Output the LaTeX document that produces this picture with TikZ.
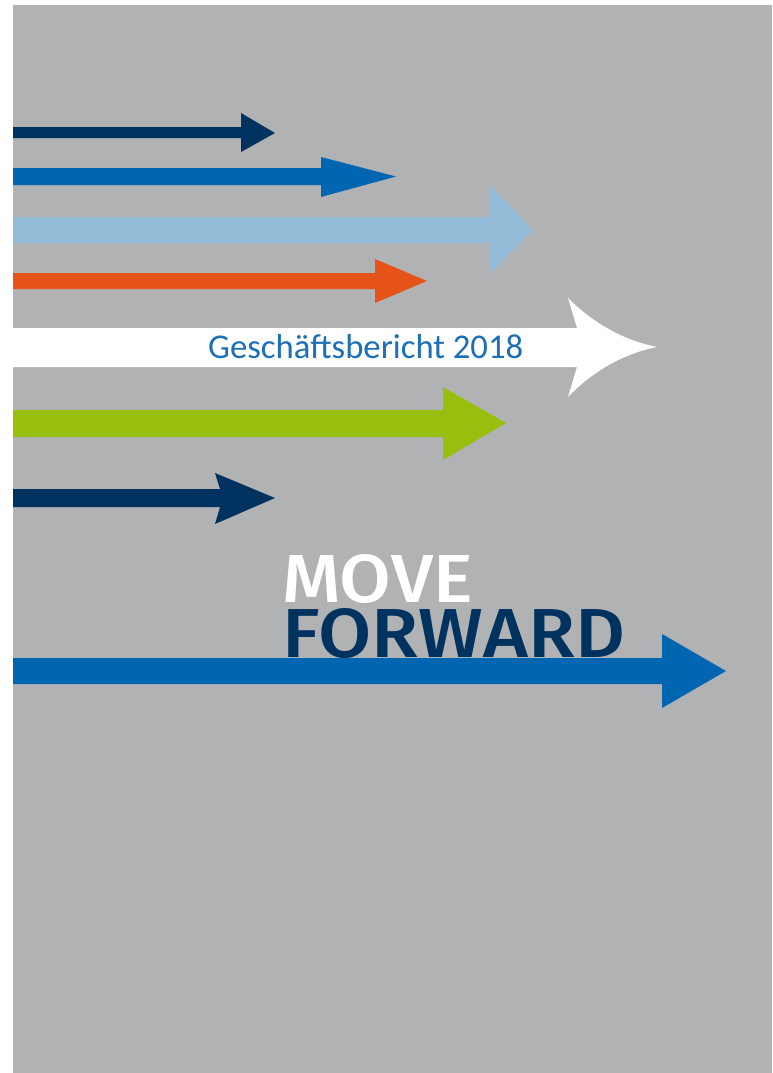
\documentclass[tikz,border=0pt]{standalone}
\usepackage{fontspec}
\usepackage{graphicx}
\newfontfamily\titlefont{Fira Sans}[BoldFont={Fira Sans Medium}]
\newfontfamily\subfont{Carlito}
\definecolor{bggrey}{HTML}{B1B2B4}
\definecolor{navy}{HTML}{00325F}
\definecolor{midblue}{HTML}{0066B2}
\definecolor{lightblue}{HTML}{94BCD9}
\definecolor{orangeA}{HTML}{E55318}
\definecolor{greenA}{HTML}{98BF0E}
\definecolor{textblue}{HTML}{1D6FB8}
\tikzset{
  arrowfill/.style={fill=#1, draw=none},
  titletext/.style={inner sep=0pt, outer sep=0pt, anchor=north west}
}
\begin{document}
\begin{tikzpicture}[x=1pt,y=-1pt]
\useasboundingbox (0,0) rectangle (772,1073);
\fill[white] (0,0) rectangle (772,1073);
\fill[bggrey] (13,5) rectangle (772,1073);
% 1 navy
\fill[arrowfill=navy] (13,127) -- (241,127) -- (241,113) -- (275,133) -- (241,152) -- (241,138) -- (13,138) -- cycle;
% 2 mid blue
\fill[arrowfill=midblue] (13,168) -- (321,168) -- (321,157) -- (396,176.5) -- (321,197) -- (321,185) -- (13,185) -- cycle;
% 3 light blue
\fill[arrowfill=lightblue] (13,217) -- (490,217) -- (490,185) -- (533,230) -- (490,273) -- (490,243) -- (13,243) -- cycle;
% 4 orange
\fill[arrowfill=orangeA] (13,273) -- (375,273) -- (375,259) -- (427,281) -- (375,303) -- (375,289) -- (13,289) -- cycle;
% 5 white
\fill[arrowfill=white] (13,328) -- (577,328) -- (568,298) .. controls (592,322) and (622,340) .. (657,347) .. controls (622,354) and (592,372) .. (568,397) -- (577,367) -- (13,367) -- cycle;
\node[inner sep=0pt, anchor=base west, text=textblue] (sub) at (208,358) {\resizebox{315pt}{!}{\subfont Geschäftsbericht 2018}};
% 6 green
\fill[arrowfill=greenA] (13,410) -- (443,410) -- (443,387) -- (506,423) -- (443,460) -- (443,437) -- (13,437) -- cycle;
% 7 navy
\fill[arrowfill=navy] (13,489) -- (220,489) -- (215,473) -- (275,498) -- (215,524) -- (220,507) -- (13,507) -- cycle;
% 8 blue big
\fill[arrowfill=midblue] (13,658) -- (662,658) -- (662,634) -- (726,671) -- (662,708) -- (662,684) -- (13,684) -- cycle;
% titles
\node[titletext, text=white] (move) at (282,554) {\resizebox{191pt}{48pt}{\titlefont\bfseries MOVE}};
\node[titletext, text=navy] (forward) at (282,608) {\resizebox{343pt}{49pt}{\titlefont\bfseries FORWARD}};
\end{tikzpicture}
\end{document}
